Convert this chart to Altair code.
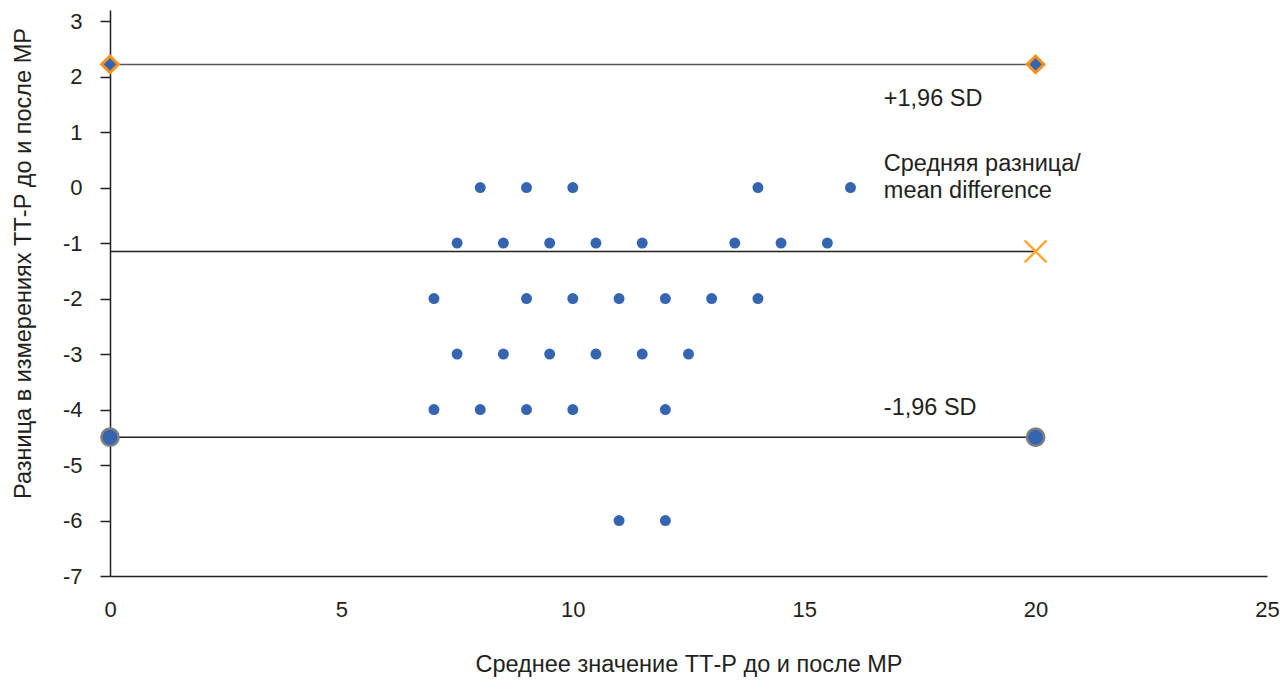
import altair as alt
import pandas as pd

# scatter points (mean of TT-P, difference)
pt_x = [8, 9, 10, 14, 16,
        7.5, 8.5, 9.5, 10.5, 11.5, 13.5, 14.5, 15.5,
        7, 9, 10, 11, 12, 13, 14,
        7.5, 8.5, 9.5, 10.5, 11.5, 12.5,
        7, 8, 9, 10, 12,
        11, 12]
pt_y = [0, 0, 0, 0, 0,
        -1, -1, -1, -1, -1, -1, -1, -1,
        -2, -2, -2, -2, -2, -2, -2,
        -3, -3, -3, -3, -3, -3,
        -4, -4, -4, -4, -4,
        -6, -6]

upper = 2.22
mean_diff = -1.15
lower = -4.5
line_x0 = 0
line_x1 = 20

ann_text = ["+1,96 SD", "Средняя разница/", "mean difference", "-1,96 SD"]
ann_x = [16.72, 16.72, 16.72, 16.72]
ann_y = [1.59, 0.42, -0.07, -3.97]

x_ticks = [0, 5, 10, 15, 20, 25]
y_ticks = [-7, -6, -5, -4, -3, -2, -1, 0, 1, 2, 3]

FONT = "Liberation Sans"
BLUE = "#3565b0"
INK = "#231f20"

pts = pd.DataFrame({"x": pt_x, "y": pt_y})
lines = pd.DataFrame({
    "x": [line_x0] * 3, "x2": [line_x1] * 3,
    "y": [upper, mean_diff, lower],
    "c": ["#555555", "#222222", "#222222"],
})
ends = pd.DataFrame({"x": [line_x0, line_x1], "up": [upper, upper], "lo": [lower, lower]})
cross = pd.DataFrame({"x": [line_x1], "y": [mean_diff]})
ann = pd.DataFrame({"t": ann_text, "x": ann_x, "y": ann_y})

xs = alt.Scale(domain=[0, 25], nice=False, zero=False)
ys = alt.Scale(domain=[-7, 3.2], nice=False, zero=False)

xax = alt.Axis(values=x_ticks, ticks=False, grid=False, labelFont=FONT, labelFontSize=22,
               labelExpr="datum.value + ''", labelFlush=False, labelOverlap=False,
               labelColor=INK, labelPadding=23, domainColor=INK, domainWidth=1.5,
               title="Среднее значение ТТ-Р до и после МР", titleFont=FONT, titleFontSize=23.5,
               titleFontWeight="normal", titleColor=INK, titlePadding=32)
yax = alt.Axis(values=y_ticks, ticks=True, tickSize=10, tickColor=INK, tickWidth=1.5,
               labelExpr="datum.value + ''", labelFlush=False, labelOverlap=False,
               grid=False, labelFont=FONT, labelFontSize=22, labelColor=INK, labelPadding=18,
               domainColor=INK, domainWidth=1.5,
               title="Разница в измерениях ТТ-Р до и после МР", titleFont=FONT, titleFontSize=23.5,
               titleFontWeight="normal", titleColor=INK, titleAngle=270,
               titleX=-87, titleY=253, titleAlign="center", titleBaseline="middle")

base_pts = alt.Chart(pts).mark_point(filled=True, size=120, color=BLUE, opacity=1).encode(
    x=alt.X("x:Q", scale=xs, axis=xax),
    y=alt.Y("y:Q", scale=ys, axis=yax),
)

rules = alt.Chart(lines).mark_rule(strokeWidth=1.5).encode(
    x=alt.X("x:Q", scale=xs), x2="x2:Q", y=alt.Y("y:Q", scale=ys),
    color=alt.Color("c:N", scale=None),
)

diam = alt.Chart(ends).mark_point(shape="diamond", filled=True, size=280, fill=BLUE,
                                   stroke="#f7941d", strokeWidth=3, opacity=1).encode(
    x=alt.X("x:Q", scale=xs), y=alt.Y("up:Q", scale=ys))

circ = alt.Chart(ends).mark_point(shape="circle", filled=True, size=300, fill=BLUE,
                                   stroke="#808080", strokeWidth=2.5, opacity=1).encode(
    x=alt.X("x:Q", scale=xs), y=alt.Y("lo:Q", scale=ys))

crs = alt.Chart(cross).mark_point(shape="M-1,-1L1,1M-1,1L1,-1", filled=False, size=480,
                                   stroke="#ffa833", strokeWidth=2.5, opacity=1).encode(
    x=alt.X("x:Q", scale=xs), y=alt.Y("y:Q", scale=ys))

txt = alt.Chart(ann).mark_text(align="left", baseline="middle", font=FONT, fontSize=23.5,
                               color=INK).encode(
    x=alt.X("x:Q", scale=xs), y=alt.Y("y:Q", scale=ys), text="t:N")

chart = alt.layer(rules, base_pts, diam, circ, crs, txt).properties(
    width=1157, height=566,
    autosize=alt.AutoSizeParams(type="none"),
    padding={"left": 102, "top": 2, "right": 12, "bottom": 102},
).configure_view(stroke=None)

chart.save("out.html", embed_options={"renderer": "svg", "actions": False})
